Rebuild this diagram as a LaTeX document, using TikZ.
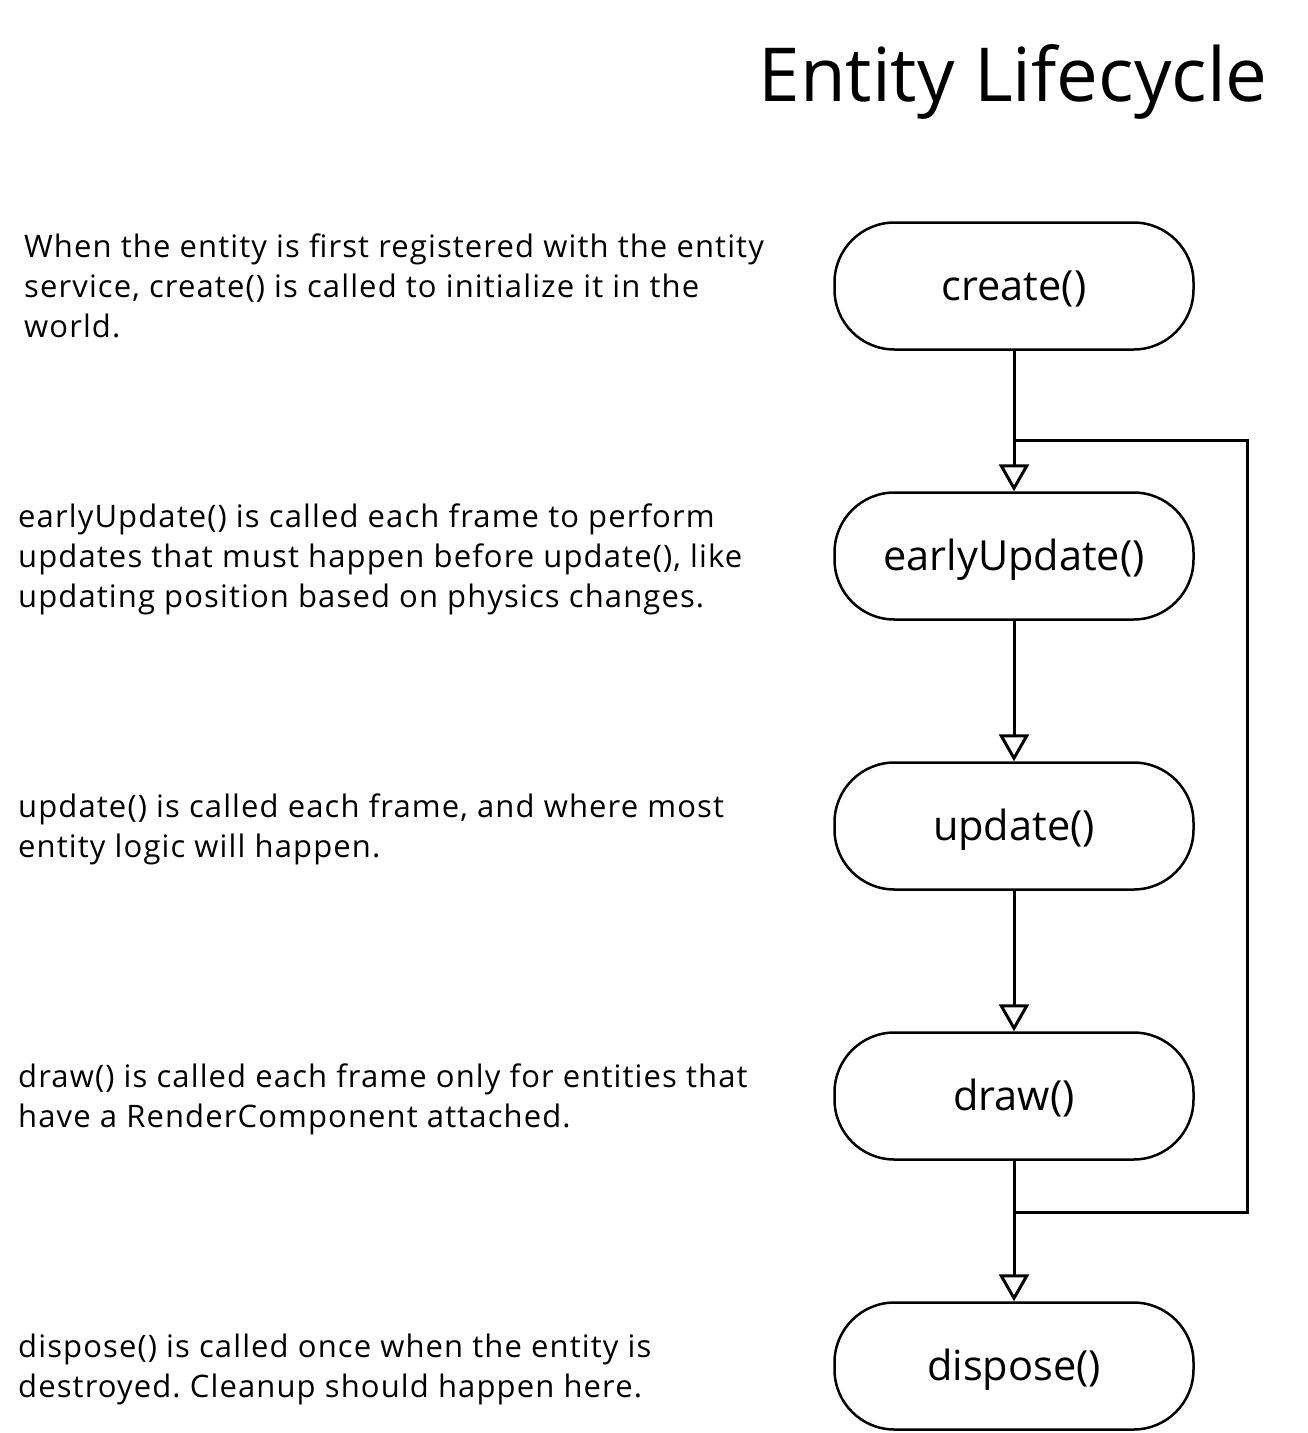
\documentclass[tikz,border=0pt]{standalone}
\usepackage{fontspec}
\setmainfont{Open Sans}
\newfontfamily\descfont[LetterSpace=3.6]{Open Sans}
\usetikzlibrary{arrows.meta}
\frenchspacing
\begin{document}
\begin{tikzpicture}[x=1pt,y=-1pt,
  stepbox/.style={draw=black,line width=2.5pt,rounded corners=60pt,minimum width=359pt,minimum height=127pt,font=\fontsize{41.5}{48}\selectfont,inner sep=0pt,text height=40pt,text depth=12pt},
  desc/.style={anchor=base west,inner sep=0pt,font=\descfont\fontsize{31}{40}\selectfont},
  flow/.style={line width=3pt,-{Triangle[open,length=27pt,width=30pt,line width=3pt]}},
  loopline/.style={line width=3pt}]
\useasboundingbox (0,0) rectangle (1308,1433);
\node[anchor=base east,inner sep=0pt,font=\fontsize{74.5}{90}\selectfont] (title) at (1268,101) {Entity Lifecycle};

\node[stepbox] (create) at (1014,286) {create()};
\node[stepbox] (early) at (1014,556) {earlyUpdate()};
\node[stepbox] (update) at (1014,826) {update()};
\node[stepbox] (draw) at (1014,1096) {draw()};
\node[stepbox] (dispose) at (1014,1366) {dispose()};

\coordinate (j1) at (1014,440);
\coordinate (c1) at (1247,440);
\coordinate (c2) at (1247,1212);
\coordinate (j2) at (1014,1212);

\draw[flow] (create) -- (early);
\draw[flow] (early) -- (update);
\draw[flow] (update) -- (draw);
\draw[flow] (draw) -- (dispose);
\draw[loopline] (j2) -- (c2) -- (c1) -- (j1);

\node[desc] (t1a) at (24,257) {When the entity is first registered with the entity};
\node[desc] (t1b) at (24,297) {service, create() is called to initialize it in the};
\node[desc] (t1c) at (24,337) {world.};

\node[desc] (t2a) at (18,527) {earlyUpdate() is called each frame to perform};
\node[desc] (t2b) at (18,567) {updates that must happen before update(), like};
\node[desc] (t2c) at (18,607) {updating position based on physics changes.};

\node[desc] (t3a) at (18,817) {update() is called each frame, and where most};
\node[desc] (t3b) at (18,857) {entity logic will happen.};

\node[desc] (t4a) at (18,1087) {draw() is called each frame only for entities that};
\node[desc] (t4b) at (18,1127) {have a RenderComponent attached.};

\node[desc] (t5a) at (18,1357) {dispose() is called once when the entity is};
\node[desc] (t5b) at (18,1397) {destroyed. Cleanup should happen here.};
\end{tikzpicture}
\end{document}
